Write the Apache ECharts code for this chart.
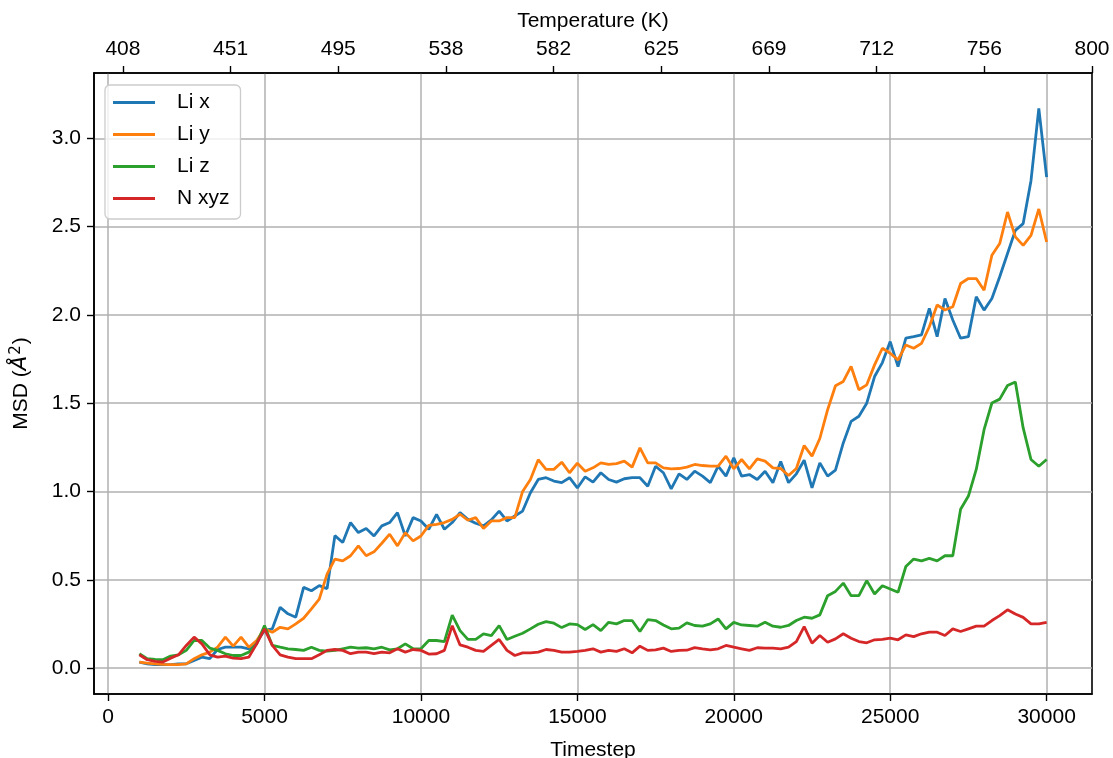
<!DOCTYPE html>
<html><head><meta charset="utf-8">
<script src="https://cdn.jsdelivr.net/npm/echarts@6/dist/echarts.min.js"></script>
<style>html,body{margin:0;padding:0;background:#fff}#c{width:1113px;height:758px}</style>
</head><body><div id="c"></div>
<script>
const timesteps=[1000,1250,1500,1750,2000,2250,2500,2750,3000,3250,3500,3750,4000,4250,4500,4750,5000,5250,5500,5750,6000,6250,6500,6750,7000,7250,7500,7750,8000,8250,8500,8750,9000,9250,9500,9750,10000,10250,10500,10750,11000,11250,11500,11750,12000,12250,12500,12750,13000,13250,13500,13750,14000,14250,14500,14750,15000,15250,15500,15750,16000,16250,16500,16750,17000,17250,17500,17750,18000,18250,18500,18750,19000,19250,19500,19750,20000,20250,20500,20750,21000,21250,21500,21750,22000,22250,22500,22750,23000,23250,23500,23750,24000,24250,24500,24750,25000,25250,25500,25750,26000,26250,26500,26750,27000,27250,27500,27750,28000,28250,28500,28750,29000,29250,29500,29750,30000];
const liX=[0.034,0.024,0.019,0.019,0.019,0.024,0.024,0.043,0.062,0.053,
0.105,0.118,0.118,0.118,0.109,0.147,0.213,0.222,0.344,0.307,
0.288,0.457,0.438,0.467,0.45,0.75,0.711,0.824,0.767,0.79,
0.748,0.805,0.824,0.88,0.748,0.852,0.833,0.786,0.87,0.786,
0.824,0.88,0.842,0.82,0.805,0.839,0.889,0.833,0.861,0.889,
0.993,1.068,1.078,1.059,1.05,1.078,1.02,1.083,1.053,1.106,
1.068,1.053,1.072,1.078,1.078,1.03,1.143,1.106,1.015,1.1,
1.068,1.115,1.087,1.05,1.143,1.087,1.19,1.087,1.096,1.068,
1.115,1.05,1.17,1.05,1.1,1.177,1.02,1.162,1.087,1.121,
1.275,1.397,1.426,1.5,1.651,1.73,1.849,1.707,1.868,1.877,
1.887,2.037,1.877,2.093,1.971,1.868,1.877,2.103,2.027,2.093,
2.216,2.348,2.479,2.517,2.76,3.17,2.78];
const liY=[0.034,0.028,0.024,0.021,0.019,0.019,0.024,0.053,0.075,0.09,
0.118,0.175,0.124,0.175,0.118,0.156,0.222,0.203,0.231,0.222,
0.25,0.282,0.335,0.39,0.532,0.617,0.607,0.636,0.692,0.636,
0.658,0.707,0.758,0.692,0.767,0.72,0.748,0.808,0.814,0.824,
0.842,0.871,0.837,0.852,0.79,0.833,0.833,0.852,0.852,1.0,
1.068,1.18,1.125,1.125,1.166,1.106,1.16,1.115,1.134,1.162,
1.153,1.158,1.172,1.138,1.247,1.162,1.162,1.134,1.128,1.13,
1.138,1.153,1.147,1.143,1.143,1.2,1.128,1.181,1.128,1.185,
1.172,1.134,1.13,1.09,1.13,1.26,1.2,1.3,1.463,1.599,
1.623,1.708,1.576,1.604,1.717,1.811,1.783,1.745,1.83,1.811,
1.839,1.933,2.056,2.028,2.046,2.178,2.206,2.206,2.14,2.338,
2.404,2.583,2.442,2.394,2.45,2.6,2.413];
const liZ=[0.081,0.053,0.049,0.047,0.068,0.075,0.1,0.156,0.156,0.113,
0.1,0.081,0.071,0.071,0.09,0.137,0.241,0.128,0.118,0.109,
0.105,0.1,0.118,0.1,0.096,0.1,0.109,0.118,0.113,0.115,
0.109,0.118,0.103,0.109,0.137,0.109,0.109,0.156,0.156,0.15,
0.30,0.212,0.162,0.162,0.194,0.184,0.24,0.162,0.18,0.197,
0.222,0.248,0.263,0.254,0.229,0.25,0.246,0.218,0.246,0.212,
0.259,0.25,0.269,0.269,0.207,0.274,0.269,0.244,0.222,0.226,
0.256,0.241,0.237,0.25,0.278,0.222,0.259,0.244,0.241,0.237,
0.259,0.237,0.231,0.241,0.269,0.288,0.282,0.301,0.41,0.434,
0.481,0.41,0.41,0.495,0.419,0.466,0.448,0.429,0.575,0.617,
0.607,0.621,0.607,0.636,0.636,0.899,0.974,1.125,1.35,1.501,
1.523,1.60,1.62,1.36,1.181,1.143,1.181];
const nXYZ=[0.075,0.047,0.038,0.034,0.056,0.075,0.128,0.175,0.137,0.075,
0.062,0.068,0.056,0.053,0.062,0.137,0.222,0.128,0.075,0.062,
0.053,0.053,0.053,0.075,0.1,0.105,0.1,0.081,0.09,0.09,
0.081,0.09,0.086,0.109,0.09,0.105,0.1,0.079,0.081,0.1,
0.24,0.131,0.118,0.1,0.094,0.128,0.162,0.1,0.071,0.086,
0.086,0.09,0.105,0.1,0.09,0.09,0.094,0.1,0.109,0.09,
0.1,0.094,0.109,0.086,0.124,0.1,0.103,0.113,0.094,0.1,
0.101,0.116,0.109,0.103,0.109,0.128,0.118,0.109,0.1,0.115,
0.113,0.113,0.109,0.118,0.15,0.235,0.141,0.184,0.146,0.165,
0.194,0.169,0.15,0.143,0.16,0.162,0.169,0.16,0.188,0.178,
0.194,0.203,0.203,0.184,0.222,0.207,0.222,0.237,0.237,0.269,
0.297,0.33,0.306,0.287,0.25,0.25,0.259];
const seriesNames=['Li x','Li y','Li z','N xyz'];
const xTicks=[0,5000,10000,15000,20000,25000,30000];
const yTicks=[0,0.5,1.0,1.5,2.0,2.5,3.0];
const tempTicks=[408,451.56,495.11,538.67,582.22,625.78,669.33,712.89,756.44,800];
const tempLabels=['408','451','495','538','582','625','669','712','756','800'];

const FONT='"Liberation Sans", Arial, Helvetica, sans-serif';
const FS=21;
const colors=['#1f77b4','#ff7f0e','#2ca02c','#d62728'];
const chart=echarts.init(document.getElementById('c'),null,{renderer:'canvas'});
function pairs(v){return timesteps.map((t,i)=>[t,v[i]]);}
const tickStyle={show:true,inside:false,length:7,lineStyle:{color:'#000',width:1.4}};
const lineAx={show:true,onZero:false,lineStyle:{color:'#000',width:1.6}};
const lab={color:'#000',fontSize:FS,fontFamily:FONT,margin:13};
const option={
  animation:false,
  backgroundColor:'#fff',
  grid:{left:94,right:21,top:73,bottom:64,outerBoundsMode:'none',containLabel:false,show:true,borderColor:'#000',borderWidth:1.6,backgroundColor:'transparent'},
  legend:{
    orient:'vertical',left:105,top:85,icon:'rect',itemWidth:42,itemHeight:3,itemGap:11,
    data:seriesNames,
    textStyle:{color:'#000',fontSize:FS,fontFamily:FONT,padding:[0,0,0,17],lineHeight:21},
    backgroundColor:'rgba(255,255,255,0.8)',borderColor:'#cccccc',borderWidth:1.3,borderRadius:5,
    padding:[7,11,10,8]
  },
  xAxis:[
    {type:'value',min:-450,max:31450,position:'bottom',
     name:'Timestep',nameLocation:'middle',nameGap:46,
     nameTextStyle:{color:'#000',fontSize:FS,fontFamily:FONT},
     axisLine:lineAx,
     axisTick:Object.assign({customValues:xTicks},tickStyle),
     axisLabel:Object.assign({customValues:xTicks,formatter:v=>String(v)},lab),
     splitLine:{show:true,lineStyle:{color:'#b0b0b0',width:1.5}}},
    {type:'value',min:396.3,max:800,position:'top',
     name:'Temperature (K)',nameLocation:'middle',nameGap:41,
     nameTextStyle:{color:'#000',fontSize:FS,fontFamily:FONT},
     axisLine:lineAx,
     axisTick:Object.assign({customValues:tempTicks},tickStyle),
     axisLabel:Object.assign({customValues:tempTicks,formatter:v=>{const k=tempTicks.findIndex(t=>Math.abs(t-v)<1e-6);return k>=0?tempLabels[k]:'';}},lab),
     splitLine:{show:false}}
  ],
  yAxis:{type:'value',min:-0.147,max:3.37,position:'left',
     name:'MSD ({i|Å}{s|2})',nameLocation:'middle',nameGap:61,
     nameTextStyle:{color:'#000',fontSize:FS,fontFamily:FONT,
       rich:{i:{fontSize:FS,fontStyle:'italic',fontFamily:'"DejaVu Sans", sans-serif',color:'#000'},
             s:{fontSize:15,fontFamily:'"DejaVu Sans", sans-serif',color:'#000',padding:[0,1,9,1]}}},
     axisLine:lineAx,
     axisTick:Object.assign({customValues:yTicks},tickStyle),
     axisLabel:Object.assign({customValues:yTicks,formatter:v=>v.toFixed(1)},lab),
     splitLine:{show:true,lineStyle:{color:'#b0b0b0',width:1.5}}},
  series:[liX,liY,liZ,nXYZ].map((v,k)=>({
    name:seriesNames[k],type:'line',xAxisIndex:0,yAxisIndex:0,data:pairs(v),
    showSymbol:false,symbol:'none',smooth:false,clip:true,
    lineStyle:{color:colors[k],width:2.8},itemStyle:{color:colors[k]},emphasis:{disabled:true}
  }))
};
chart.setOption(option);
</script></body></html>
